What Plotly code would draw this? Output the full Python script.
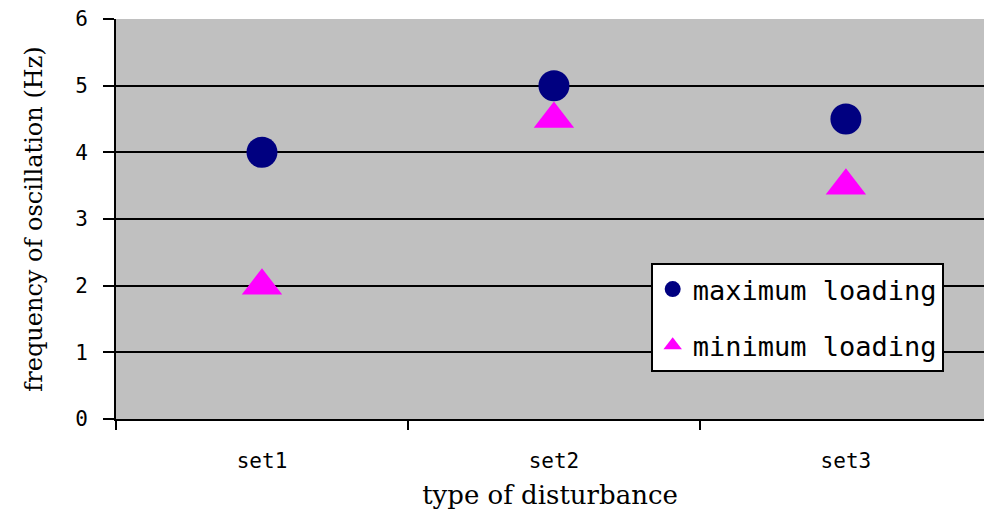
import plotly.graph_objects as go

categories = ["set1", "set2", "set3"]
max_loading = [4.0, 5.0, 4.5]
min_loading = [2.0, 4.5, 3.5]
y_ticks = [0, 1, 2, 3, 4, 5, 6]

TICK_FONT = dict(family="DejaVu Sans Mono", size=21, color="black")
TITLE_FONT = "DejaVu Serif"

fig = go.Figure()
fig.add_trace(go.Scatter(
    x=categories, y=max_loading, mode="markers", name="maximum loading",
    legendgroup="max",
    marker=dict(symbol="circle", size=31, color="#000080",
                line=dict(width=0)),
))
fig.add_trace(go.Scatter(
    x=categories, y=min_loading, mode="markers", name="minimum loading",
    legendgroup="min",
    marker=dict(symbol="triangle-up", size=35, color="#FF00FF",
                line=dict(width=0)),
))

fig.update_layout(
    width=984, height=519,
    margin=dict(l=116, r=0, t=19, b=100),
    paper_bgcolor="white",
    plot_bgcolor="#C0C0C0",
    showlegend=True,
    legend=dict(
        x=0.616, y=0.39, xanchor="left", yanchor="top",
        bgcolor="white", bordercolor="black", borderwidth=2,
        font=dict(family="DejaVu Sans Mono", size=27, color="black"),
        traceorder="grouped", tracegroupgap=18,
        itemsizing="trace",
    ),
)

fig.update_xaxes(
    type="category",
    range=[-0.5, 2.473],
    tickson="boundaries",
    ticks="outside", ticklen=9, tickwidth=2, tickcolor="black",
    showline=True, linecolor="black", linewidth=2,
    showgrid=False, zeroline=False,
    tickfont=TICK_FONT,
    ticklabelstandoff=22,
    title=dict(text="type of disturbance",
               font=dict(family=TITLE_FONT, size=26, color="black"),
               standoff=14),
)

fig.update_yaxes(
    range=[0, 6],
    tickvals=y_ticks,
    ticks="outside", ticklen=11, tickwidth=2, tickcolor="black",
    showline=True, linecolor="black", linewidth=2,
    showgrid=True, gridcolor="black", gridwidth=2,
    zeroline=False,
    tickfont=TICK_FONT,
    ticklabelstandoff=11,
    title=dict(text="frequency of oscillation (Hz)",
               font=dict(family=TITLE_FONT, size=24, color="black"),
               standoff=26),
)

fig.write_html("out.html")
